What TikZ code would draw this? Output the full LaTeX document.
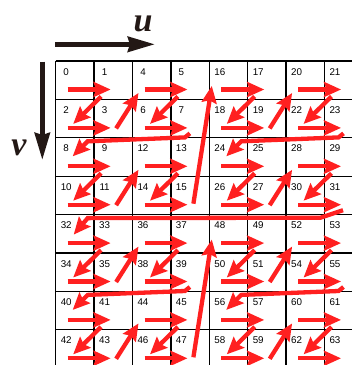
\documentclass[tikz,border=0pt]{standalone}
\usepackage{fontspec}
\setsansfont{Liberation Sans}
\newfontfamily\axisfont{Liberation Serif}
\usetikzlibrary{arrows.meta,calc}
\definecolor{czed}{RGB}{255,32,32}
\definecolor{caxis}{RGB}{35,24,21}

\tikzset{
  cellnum/.style={anchor=base,inner sep=0pt,font=\sffamily\fontsize{9.8}{11}\selectfont},
  zarrow/.style={czed,line width=4.3pt,-{Stealth[length=17pt,width=15pt,inset=2.5pt]}},
  axisarrow/.style={caxis,line width=5pt,-{Stealth[length=27pt,width=15pt,inset=2pt]}},
  axislabel/.style={caxis,inner sep=0pt,font=\axisfont\bfseries\itshape\fontsize{34}{36}\selectfont}
}

\begin{document}
\begin{tikzpicture}[x=1pt,y=-1pt]
\useasboundingbox (0,0) rectangle (352,365);
\clip (0,0) rectangle (352,365);
% ===================== axes =====================
\coordinate (u0) at (55,44.3);
\coordinate (u1) at (155,44.3);
\draw[axisarrow] (u0) -- (u1);
\node[axislabel] (ulabel) at (143,23.5) {u};
\coordinate (v0) at (42.3,61.7);
\coordinate (v1) at (42.3,160);
\draw[axisarrow] (v0) -- (v1);
\node[axislabel] (vlabel) at (19,148) {v};
% ===================== grid and Morton numbers =====================
\foreach \i in {0,...,8}{
  \draw[line width=1.3pt] ({55.7+38.4*\i},61) -- ({55.7+38.4*\i},368.2);
  \draw[line width=1.3pt] (55.7,{61+38.4*\i}) -- (363,{61+38.4*\i});}
\foreach \i in {0,...,7}{
  \foreach \j in {0,...,7}{
    \pgfmathtruncatemacro\k{mod(\i,2)+2*mod(\j,2)+4*mod(floor(\i/2),2)+8*mod(floor(\j/2),2)+16*floor(\i/4)+32*floor(\j/4)}
    \coordinate (c\k) at ({55.7+38.4*\i},{61+38.4*\j});
    \node[cellnum] (n\k) at ($(c\k)+(10.5,14)$) {\k};}}
% ===================== Z-order curve =====================
% left to right inside each pair
\foreach \k in {0,2,...,62}{
  \pgfmathtruncatemacro\nk{\k+1}
  \draw[zarrow] ($(c\k)+(12,28.5)$) -- ($(c\nk)+(16.5,28.5)$);}
% down-left inside each 2x2 block
\foreach \k in {1,5,...,61}{
  \pgfmathtruncatemacro\nk{\k+1}
  \draw[zarrow] ($(c\k)+(7,35.5)$) -- ($(c\nk)+(17.5,24.5)$);}
% up-right between 2x2 blocks
\foreach \k in {3,11,19,27,35,43,51,59}{
  \pgfmathtruncatemacro\nk{\k+1}
  \draw[zarrow] ($(c\k)+(22,29)$) -- ($(c\nk)+(6,32)$);}
% back to the next pair of rows
\foreach \k in {7,23,39,55}{
  \pgfmathtruncatemacro\nk{\k+1}
  \draw[zarrow] ($(c\k)+(19,34)$) -- ($(c\k)+(14,38)$) -- ($(c\nk)+(32,3.5)$) -- ($(c\nk)+(17,18.5)$);}
% up-right between 4x4 blocks
\foreach \k in {15,47}{
  \pgfmathtruncatemacro\nk{\k+1}
  \draw[zarrow] ($(c\k)+(22.5,27.5)$) -- ($(c\nk)+(2.5,25)$);}
% back to the lower half
\draw[zarrow] ($(c31)+(18.5,34)$) -- ($(c31)+(-4,41.5)$) -- ($(c32)+(32,3.5)$) -- ($(c32)+(18,20)$);
\end{tikzpicture}
\end{document}
